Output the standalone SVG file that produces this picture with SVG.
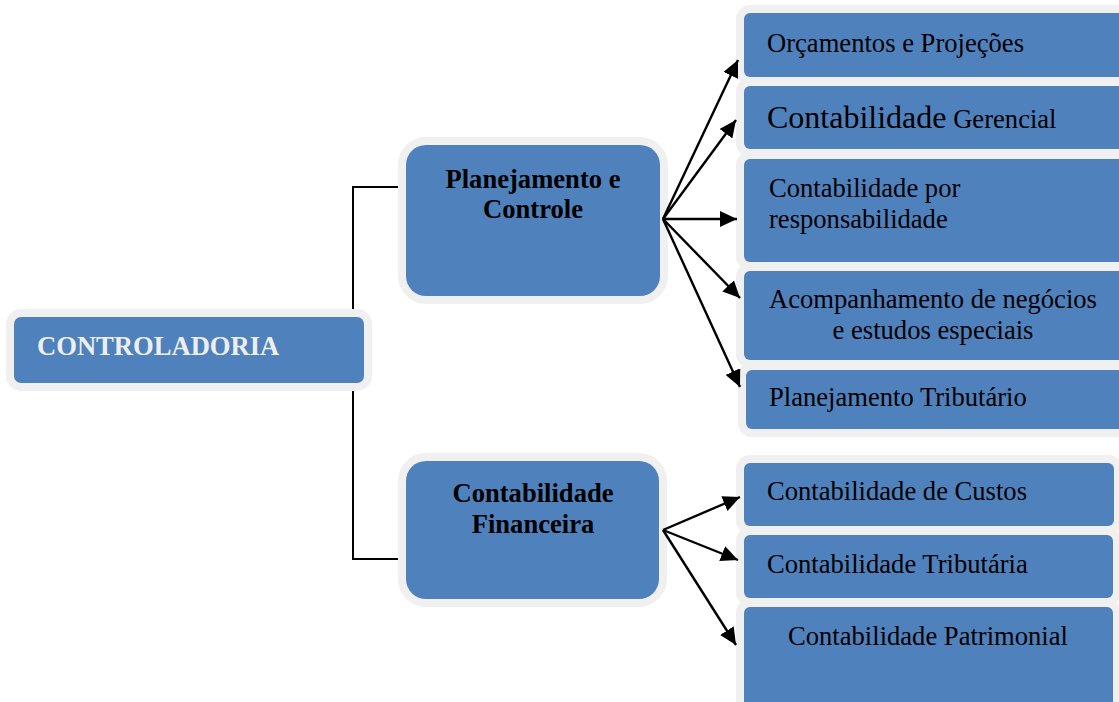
<svg xmlns="http://www.w3.org/2000/svg" width="1119" height="702" viewBox="0 0 1119 702">
<style>
.box{fill:#4f81bd;stroke:#f0f0f0;stroke-width:16;paint-order:stroke}
.t{font-family:"Liberation Serif","Times New Roman","DejaVu Serif",serif;font-size:26.6px;fill:#000}
.b{font-weight:bold}
.c{text-anchor:middle}
.ln{stroke:#000;stroke-width:2;fill:none}
.ar{stroke:#000;stroke-width:2.4;fill:none;marker-end:url(#ah)}
</style>
<defs>
<marker id="ah" markerUnits="userSpaceOnUse" markerWidth="18" markerHeight="16" refX="17" refY="8" orient="auto">
<path d="M0,0 L17,8 L0,16 z" fill="#000"/>
</marker>
</defs>
<rect width="1119" height="702" fill="#fff"/>
<g id="controladoria">
<rect class="box" x="14" y="317" width="350" height="66" rx="7"/>
<text class="t b" x="37" y="355" style="fill:#eeeeee">CONTROLADORIA</text>
</g>
<g id="planejamento">
<rect class="box" x="406" y="145" width="254" height="151" rx="20"/>
<text class="t b c" x="533" y="188">Planejamento e</text>
<text class="t b c" x="533" y="218">Controle</text>
</g>
<g id="financeira">
<rect class="box" x="406" y="461" width="253" height="138" rx="20"/>
<text class="t b c" x="533" y="502">Contabilidade</text>
<text class="t b c" x="533" y="533">Financeira</text>
</g>
<g id="orcamentos">
<rect class="box" x="744" y="13" width="380" height="64" rx="6"/>
<text class="t" x="767" y="52">Orçamentos e Projeções</text>
</g>
<g id="gerencial">
<rect class="box" x="744" y="86" width="380" height="63" rx="6"/>
<text class="t" x="767" y="128"><tspan style="font-size:32px">Contabilidade</tspan> Gerencial</text>
</g>
<g id="responsabilidade">
<rect class="box" x="744" y="159" width="380" height="103" rx="6"/>
<text class="t" x="769" y="197">Contabilidade por</text>
<text class="t" x="769" y="228">responsabilidade</text>
</g>
<g id="acompanhamento">
<rect class="box" x="744" y="271" width="380" height="89" rx="6"/>
<text class="t c" x="933" y="308">Acompanhamento de negócios</text>
<text class="t c" x="933" y="339">e estudos especiais</text>
</g>
<g id="planejamento-tributario">
<rect class="box" x="746" y="370" width="378" height="59" rx="6"/>
<text class="t" x="769" y="406">Planejamento Tributário</text>
</g>
<g id="custos">
<rect class="box" x="744" y="463" width="370" height="63" rx="6"/>
<text class="t" x="767" y="500">Contabilidade de Custos</text>
</g>
<g id="tributaria">
<rect class="box" x="744" y="535" width="369" height="63" rx="6"/>
<text class="t" x="767" y="573">Contabilidade Tributária</text>
</g>
<g id="patrimonial">
<rect class="box" x="744" y="607" width="369" height="110" rx="6"/>
<text class="t c" x="928" y="645">Contabilidade Patrimonial</text>
</g>
<g id="connectors">
<path class="ln" d="M398,187 H353 V309 M353,391 V559 H398"/>
<line class="ar" x1="663" y1="219" x2="738" y2="60"/>
<line class="ar" x1="663" y1="219" x2="736" y2="120"/>
<line class="ar" x1="663" y1="219" x2="737" y2="219"/>
<line class="ar" x1="663" y1="219" x2="740" y2="298"/>
<line class="ar" x1="663" y1="219" x2="740" y2="387"/>
<line class="ar" x1="663" y1="530" x2="740" y2="497"/>
<line class="ar" x1="663" y1="530" x2="738" y2="560"/>
<line class="ar" x1="663" y1="530" x2="736" y2="645"/>
</g>
</svg>
